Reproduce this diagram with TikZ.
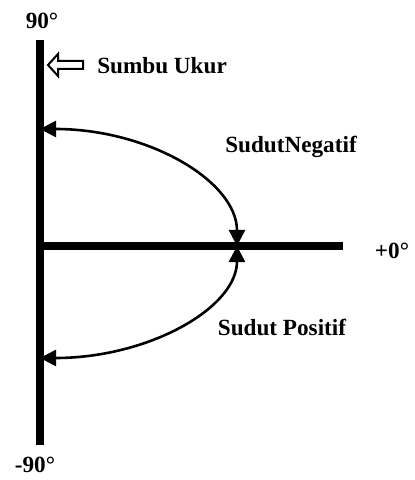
\documentclass[tikz,border=0pt]{standalone}
\usepackage{fontspec}
\setmainfont{Liberation Serif}
\usetikzlibrary{arrows.meta}

\begin{document}
\begin{tikzpicture}[x=0.25mm,y=0.25mm,
  font=\fontsize{16.5}{18}\selectfont\bfseries,
  axis/.style={line width=2mm},
  sweep/.style={line width=0.65mm,{Triangle[length=4mm,width=4mm]}-{Triangle[length=4mm,width=4mm]}}]

% Parameters
\def\a{197}
\def\bn{117}
\def\bp{112}

\useasboundingbox (-40,-234) rectangle (374,246);

% Axes
\coordinate (O) at (0,0);
\coordinate (top) at (0,206);
\coordinate (bot) at (0,-199);
\coordinate (right) at (303,0);
\draw[axis] (bot) -- (top);
\draw[axis] (O) -- (right);

% Arc end points
\coordinate (negA) at (0,\bn);
\coordinate (posA) at (0,-\bp);
\coordinate (tip) at (\a,0);

% Negative angle
\draw[sweep] (negA) .. controls ({0.552*\a},\bn) and (\a,{0.552*\bn}) .. (tip);

% Positive angle
\draw[sweep] (tip) .. controls (\a,{-0.552*\bp}) and ({0.552*\a},-\bp) .. (posA);

% Labels
\node (p90) at (2,225) {90°};
\node (m90) at (-5,-219) {-90°};
\node (zero) at (352,-5) {+0°};
\node (neg) at (251,99) {SudutNegatif};
\node (pos) at (242,-81) {Sudut Positif};

% Measuring axis pointer
\draw[line width=0.5mm] (8,181) -- (18,192) -- (18,185) -- (43,185)
  -- (43,177) -- (18,177) -- (18,170) -- cycle;
\node[anchor=west,inner sep=0pt] (ukur) at (57,180) {Sumbu Ukur};

\end{tikzpicture}
\end{document}
